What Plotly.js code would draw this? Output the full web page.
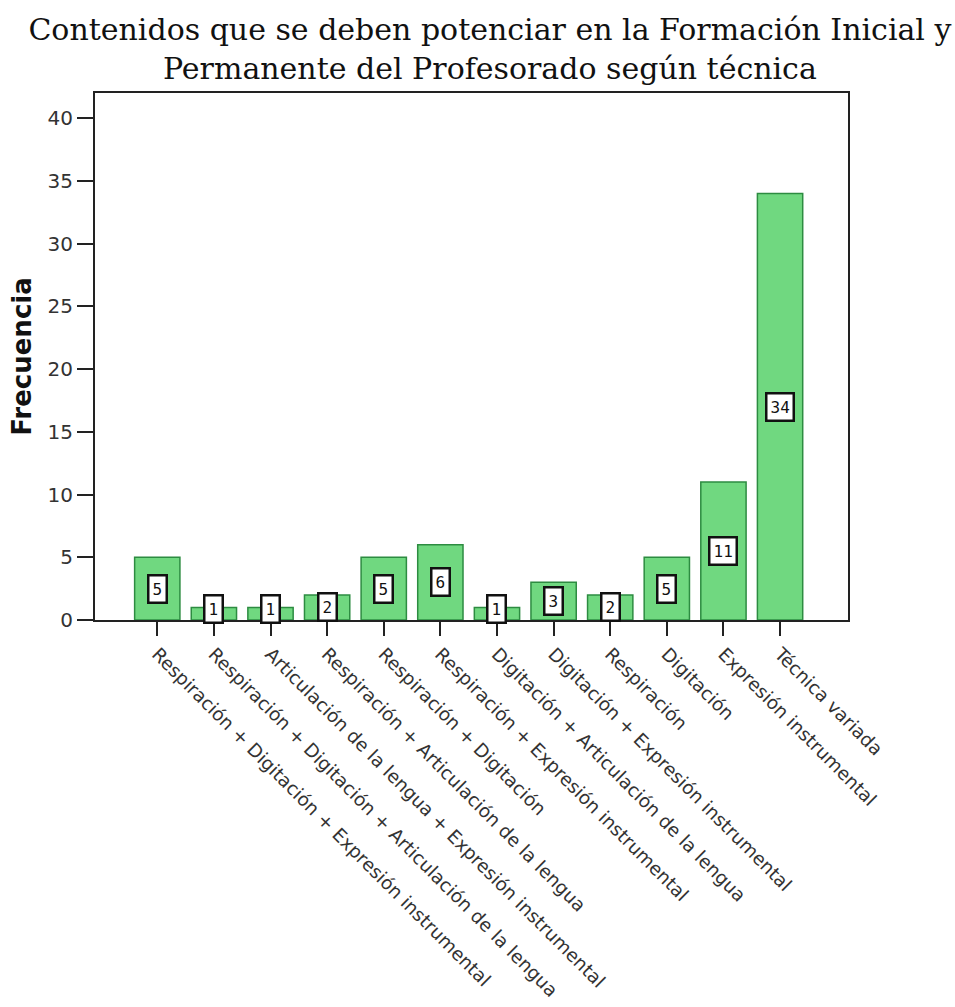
<!DOCTYPE html>
<html>
<head>
<meta charset="utf-8">
<script src="https://cdn.plot.ly/plotly-3.0.1.min.js"></script>
<style>html,body{margin:0;padding:0;background:#fff;}#chart{width:955px;height:1007px;}</style>
</head>
<body>
<div id="chart"></div>
<script>
const categories = [
  "Respiración + Digitación + Expresión instrumental",
  "Respiración + Digitación + Articulación de la lengua",
  "Articulación de la lengua + Expresión instrumental",
  "Respiración + Articulación de la lengua",
  "Respiración + Digitación",
  "Respiración + Expresión instrumental",
  "Digitación + Articulación de la lengua",
  "Digitación + Expresión instrumental",
  "Respiración",
  "Digitación",
  "Expresión instrumental",
  "Técnica variada"
];
const frequencies = [5, 1, 1, 2, 5, 6, 1, 3, 2, 5, 11, 34];
const yTickValues = [0, 5, 10, 15, 20, 25, 30, 35, 40];
const titleText = "Contenidos que se deben potenciar en la Formación Inicial y<br>Permanente del Profesorado según técnica";
const yTitle = "Frecuencia";

const idx = categories.map((c, i) => i);

const trace = {
  type: "bar",
  x: idx,
  y: frequencies,
  width: 0.8,
  marker: {color: "rgb(112,216,128)", line: {color: "rgb(45,140,65)", width: 1.5}},
  hoverinfo: "skip"
};

const annotations = frequencies.map((v, i) => ({
  x: i, y: Math.max(v / 2, 0.85), xref: "x", yref: "y",
  text: String(v), showarrow: false,
  font: {family: "DejaVu Sans Mono, monospace", size: 16, color: "#111"},
  bgcolor: "#fff", bordercolor: "#111", borderwidth: 2.5, borderpad: 3,
  xanchor: "center", yanchor: "middle"
}));

const layout = {
  width: 955, height: 1007,
  margin: {l: 95, r: 107, t: 93, b: 387},
  paper_bgcolor: "#fff", plot_bgcolor: "#fff",
  showlegend: false,
  title: {
    text: titleText,
    font: {family: "DejaVu Serif, serif", size: 30, color: "#111"},
    xref: "container", x: 0.513, xanchor: "center",
    yref: "container", y: 0.96, yanchor: "top"
  },
  xaxis: {
    range: [-1.1, 12.2],
    tickmode: "array", tickvals: idx, ticktext: categories,
    tickangle: 45,
    ticks: "outside", ticklen: 14, tickwidth: 2, tickcolor: "#222",
    showline: true, linewidth: 2, linecolor: "#222", mirror: true,
    showgrid: false, zeroline: false, automargin: false,
    tickfont: {family: "DejaVu Sans, sans-serif", size: 18.5, color: "#333"}
  },
  yaxis: {
    range: [0, 42],
    tickmode: "array", tickvals: yTickValues,
    ticks: "outside", ticklen: 16, tickwidth: 2, tickcolor: "#222",
    showline: true, linewidth: 2, linecolor: "#222", mirror: true,
    showgrid: false, zeroline: false, automargin: false,
    tickfont: {family: "DejaVu Sans, sans-serif", size: 20, color: "#333"},
    title: {text: yTitle, standoff: 8, font: {family: "DejaVu Sans, sans-serif", size: 26, color: "#111", weight: "bold"}}
  },
  annotations: annotations
};

Plotly.newPlot("chart", [trace], layout, {displayModeBar: false, staticPlot: true});
</script>
</body>
</html>
